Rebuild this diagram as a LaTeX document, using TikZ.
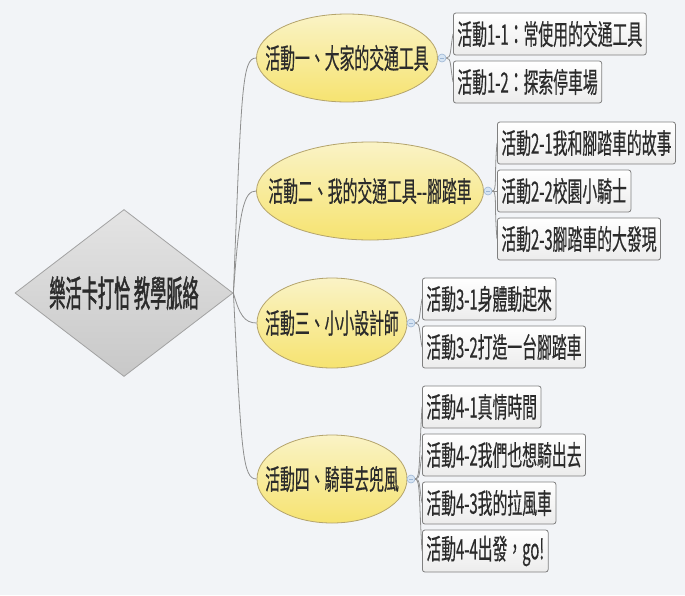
\documentclass[tikz,border=0pt]{standalone}
\usepackage{fontspec}
\usetikzlibrary{shapes.geometric}
\newfontfamily\cjk[FakeStretch=0.53,FakeBold=0.4]{Noto Sans CJK TC}
\newfontfamily\cjkbig[FakeStretch=0.45,FakeBold=1.2]{Noto Sans CJK TC}
\definecolor{bgc}{HTML}{F2F4F7}
\definecolor{txt}{HTML}{2B2B2B}
\definecolor{linec}{HTML}{8E8E8E}
\definecolor{elltop}{HTML}{FAF3C6}
\definecolor{ellbot}{HTML}{F6E370}
\definecolor{elldraw}{HTML}{B4A46C}
\definecolor{boxdraw}{HTML}{808080}
\definecolor{boxbot}{HTML}{ECECEC}
\definecolor{diatop}{HTML}{E4E4E4}
\definecolor{diabot}{HTML}{C8C8C8}
\definecolor{diadraw}{HTML}{A2A2A2}
\definecolor{knobfill}{HTML}{D6E4F3}
\definecolor{knobdraw}{HTML}{9DB6D4}
\newcommand{\ztext}[1]{\makebox[0pt]{#1}}
\tikzset{
  rootnode/.style={diamond, aspect=1.3, inner sep=1pt, minimum width=218pt, minimum height=167pt,
    draw=diadraw, line width=0.8pt, top color=diatop, bottom color=diabot,
    font=\cjkbig\fontsize{36}{40}\selectfont, text=txt},
  topic/.style={ellipse, inner sep=0pt, draw=elldraw, line width=0.8pt,
    top color=elltop, bottom color=ellbot,
    font=\cjk\fontsize{28}{32}\selectfont, text=txt},
  leaf/.style={rectangle, anchor=west, rounded corners=2.5pt, draw=boxdraw, line width=0.8pt,
    top color=white, bottom color=boxbot, minimum height=42pt, inner xsep=4pt, inner ysep=0pt,
    font=\cjk\fontsize{28}{32}\selectfont, text=txt},
  knob/.style={circle, inner sep=0pt, minimum size=8pt, draw=knobdraw, fill=knobfill, line width=0.6pt},
  conn/.style={draw=linec, line width=0.8pt},
}
\begin{document}
\begin{tikzpicture}[x=1pt, y=-1pt]
\fill[bgc] (0,0) rectangle (685,595);
\useasboundingbox (0,0) rectangle (685,595);

% root
\node[rootnode] (root) at (124,293) {\ztext{樂活卡打恰 教學脈絡}};

% topics
\node[topic, minimum width=181pt, minimum height=88pt] (t1) at (347,58) {\ztext{活動一、大家的交通工具}};
\node[topic, minimum width=227pt, minimum height=98pt] (t2) at (370,191) {\ztext{活動二、我的交通工具--腳踏車}};
\node[topic, minimum width=150pt, minimum height=90pt] (t3) at (332,323) {\ztext{活動三、小小設計師}};
\node[topic, minimum width=150pt, minimum height=88pt] (t4) at (332,479) {\ztext{活動四、騎車去兜風}};

% root connectors
\draw[conn] (root.east) .. controls +(8,-205) and +(-14,0) .. (t1.west);
\draw[conn] (root.east) .. controls +(6,-85) and +(-12,0) .. (t2.west);
\draw[conn] (root.east) .. controls +(6,22) and +(-12,0) .. (t3.west);
\draw[conn] (root.east) .. controls +(8,160) and +(-14,0) .. (t4.west);

% knobs
\node[knob] (k1) at (442,58) {};
\node[knob] (k2) at (488,191) {};
\node[knob] (k3) at (411,323) {};
\node[knob] (k4) at (411,479) {};
\foreach \k in {k1,k2,k3,k4} {
  \draw[knobdraw, line width=0.6pt] ([xshift=-2pt]\k.center) -- ([xshift=2pt]\k.center);
}

% leaves
\node[leaf] (b11) at (453,34) {活動1-1：常使用的交通工具};
\node[leaf] (b12) at (453,82) {活動1-2：探索停車場};

\node[leaf] (b21) at (497,143) {活動2-1我和腳踏車的故事};
\node[leaf] (b22) at (497,191) {活動2-2校園小騎士};
\node[leaf] (b23) at (497,239) {活動2-3腳踏車的大發現};

\node[leaf] (b31) at (422,299) {活動3-1身體動起來};
\node[leaf] (b32) at (422,347) {活動3-2打造一台腳踏車};

\node[leaf] (b41) at (422,407) {活動4-1真情時間};
\node[leaf] (b42) at (422,455) {活動4-2我們也想騎出去};
\node[leaf] (b43) at (422,503) {活動4-3我的拉風車};
\node[leaf] (b44) at (422,551) {活動4-4出發，go!};

% leaf connectors
\draw[conn] (k1.east) .. controls +(5,0) and +(-3,17) .. (b11.west);
\draw[conn] (k1.east) .. controls +(5,0) and +(-3,-17) .. (b12.west);

\draw[conn] (k2.east) .. controls +(5,0) and +(-3,34) .. (b21.west);
\draw[conn] (k2.east) -- (b22.west);
\draw[conn] (k2.east) .. controls +(5,0) and +(-3,-34) .. (b23.west);

\draw[conn] (k3.east) .. controls +(5,0) and +(-3,17) .. (b31.west);
\draw[conn] (k3.east) .. controls +(5,0) and +(-3,-17) .. (b32.west);

\draw[conn] (k4.east) .. controls +(5,0) and +(-3,50) .. (b41.west);
\draw[conn] (k4.east) .. controls +(5,0) and +(-3,17) .. (b42.west);
\draw[conn] (k4.east) .. controls +(5,0) and +(-3,-17) .. (b43.west);
\draw[conn] (k4.east) .. controls +(5,0) and +(-3,-50) .. (b44.west);
\end{tikzpicture}
\end{document}
